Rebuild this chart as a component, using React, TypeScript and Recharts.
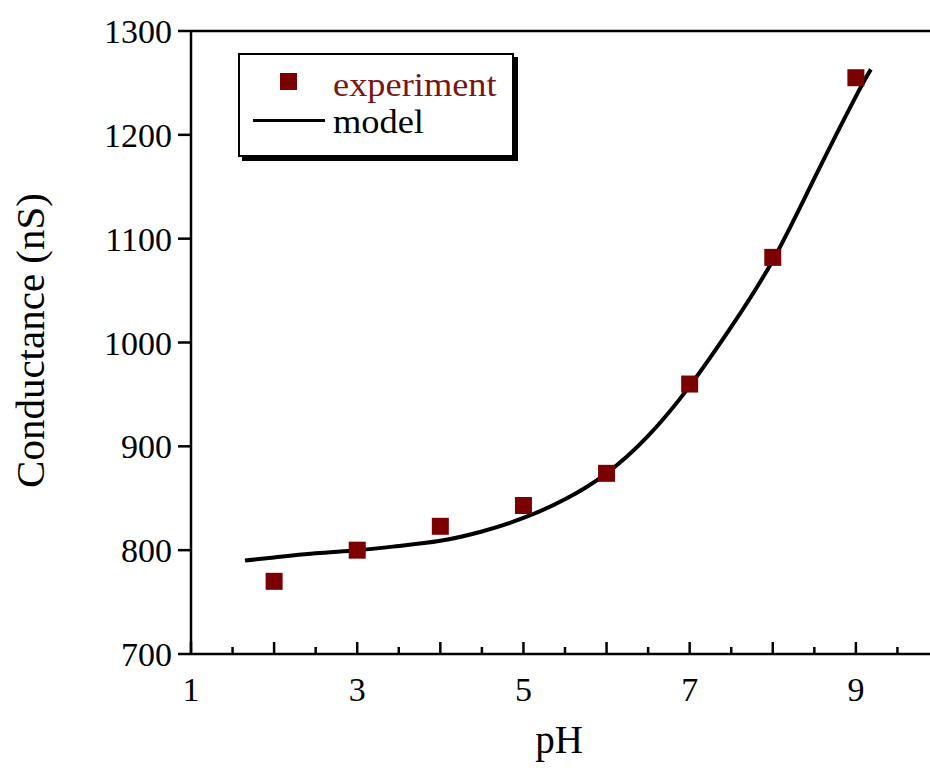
import { ComposedChart, Line, ReferenceLine, Scatter, XAxis, YAxis } from "recharts";

// measured conductance at each pH
const phExperiment = [2, 3, 4, 5, 6, 7, 8, 9];
const conductanceExperiment = [770, 800, 823, 843, 874, 960, 1082, 1255];

// model curve samples
const phModel = [1.65, 2, 2.5, 3, 3.5, 4, 4.5, 5, 5.5, 6, 6.5, 7, 7.5, 8, 8.5, 9, 9.18];
const conductanceModel = [790, 793, 797, 800, 804, 809, 818, 831, 849, 874, 910, 958, 1015, 1079, 1158, 1237, 1263];

const xTicks = [1, 1.5, 2, 2.5, 3, 3.5, 4, 4.5, 5, 5.5, 6, 6.5, 7, 7.5, 8, 8.5, 9, 9.5, 10];
const xTickLabels = [1, 3, 5, 7, 9];
const yTicks = [700, 800, 900, 1000, 1100, 1200, 1300];

const SERIF = '"Liberation Serif", "Times New Roman", serif';
const MAROON = "#7b0000";

const experimentData = phExperiment.map((ph, i) => ({ ph, g: conductanceExperiment[i] }));
const modelData = phModel.map((ph, i) => ({ ph, g: conductanceModel[i] }));

// ticks point up into the plot; only odd pH values get a number
function PhTick(props: any) {
  const { x, y, payload } = props;
  const v = payload.value as number;
  const major = Number.isInteger(v);
  return (
    <g>
      <line x1={x} x2={x} y1={y} y2={y - (major ? 12 : 7)} stroke="#000" strokeWidth={2.5} />
      {xTickLabels.includes(v) && (
        <text x={x} y={y + 47} textAnchor="middle" fill="#000" fontSize={34} fontFamily={SERIF}>
          {v}
        </text>
      )}
    </g>
  );
}

function SquareDot(props: any) {
  const { cx, cy } = props;
  return <rect x={cx - 8.5} y={cy - 8.5} width={17} height={17} fill={MAROON} />;
}

const legendText = {
  position: "absolute" as const,
  left: 93,
  transform: "scaleX(1.07)",
  transformOrigin: "left center",
};

function Legend() {
  return (
    <div
      style={{
        position: "absolute",
        left: 238,
        top: 53,
        width: 272,
        height: 100,
        border: "2px solid #000",
        boxShadow: "4px 4px 0 #000",
        background: "#fff",
        fontFamily: SERIF,
        fontSize: 34,
        lineHeight: 1,
      }}
    >
      <div style={{ position: "absolute", left: 40, top: 18, width: 17, height: 17, background: MAROON }} />
      <span style={{ ...legendText, top: 13, color: "#7a1515" }}>experiment</span>
      <div style={{ position: "absolute", left: 13, top: 64, width: 72, height: 3, background: "#000" }} />
      <span style={{ ...legendText, top: 50, color: "#000" }}>model</span>
    </div>
  );
}

export default function App() {
  return (
    <div
      style={{
        position: "absolute",
        left: 0,
        top: 0,
        width: 930,
        height: 768,
        overflow: "hidden",
        background: "#fff",
        fontFamily: SERIF,
      }}
    >
      <ComposedChart width={1000} height={768} margin={{ top: 31, right: 61, bottom: 54, left: 0 }}>
        <XAxis
          dataKey="ph"
          type="number"
          domain={[1, 10]}
          ticks={xTicks}
          interval={0}
          allowDataOverflow
          height={60}
          tickLine={false}
          tickSize={0}
          tickMargin={0}
          tick={<PhTick />}
          axisLine={{ stroke: "#000", strokeWidth: 2.5 }}
          label={{
            content: ({ viewBox }: any) => (
              <text
                x={viewBox.x + viewBox.width / 2 - 6}
                y={viewBox.y + 99}
                textAnchor="middle"
                fill="#000"
                fontSize={39}
                fontFamily={SERIF}
              >
                pH
              </text>
            ),
          }}
        />
        <YAxis
          dataKey="g"
          type="number"
          domain={[700, 1300]}
          ticks={yTicks}
          interval={0}
          width={191}
          tickSize={13}
          tickMargin={6}
          tickLine={{ stroke: "#000", strokeWidth: 2.5 }}
          axisLine={{ stroke: "#000", strokeWidth: 2.5 }}
          tick={{ fill: "#000", fontSize: 34, fontFamily: SERIF }}
          label={{
            content: ({ viewBox }: any) => {
              const cx = 44;
              const cy = viewBox.y + viewBox.height / 2 - 2;
              return (
                <text
                  x={cx}
                  y={cy}
                  transform={`rotate(-90, ${cx}, ${cy})`}
                  textAnchor="middle"
                  fill="#000"
                  fontSize={41}
                  fontFamily={SERIF}
                >
                  Conductance (nS)
                </text>
              );
            },
          }}
        />
        <ReferenceLine y={1300} stroke="#000" strokeWidth={2.5} />
        <ReferenceLine x={10} stroke="#000" strokeWidth={2.5} />
        <Line
          data={modelData}
          dataKey="g"
          type="natural"
          stroke="#000"
          strokeWidth={4}
          dot={false}
          activeDot={false}
          isAnimationActive={false}
        />
        <Scatter data={experimentData} dataKey="g" fill={MAROON} shape={<SquareDot />} isAnimationActive={false} />
      </ComposedChart>
      <Legend />
    </div>
  );
}
